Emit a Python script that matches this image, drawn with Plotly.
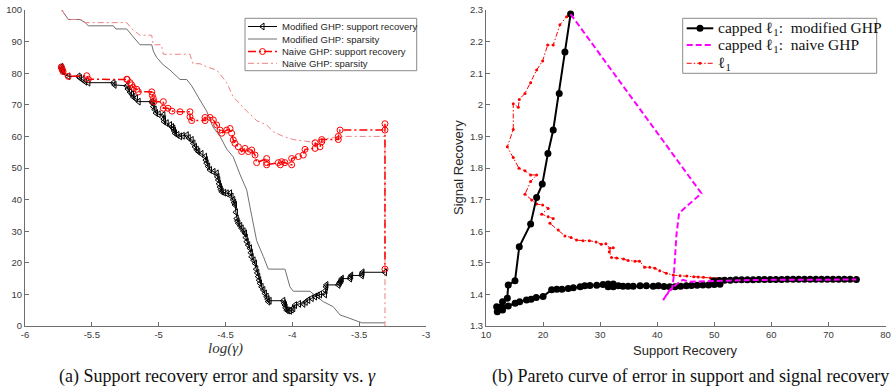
import plotly.graph_objects as go

W, H = 892, 390

# ---------------- Left panel data: (a) support recovery error / sparsity vs log(gamma)
mod_sr_x = [-5.728, -5.725, -5.720, -5.715, -5.676, -5.600, -5.589, -5.570, -5.550, -5.526, -5.339, -5.330, -5.239,
            -5.230, -5.214, -5.200, -5.190, -5.170, -5.150, -5.052, -5.045, -5.040, -5.030, -5.020, -5.000, -4.965, -4.962, -4.960,
            -4.940, -4.915, -4.900, -4.891, -4.885, -4.878, -4.860, -4.840, -4.820, -4.790, -4.775, -4.753, -4.740, -4.728, -4.715,
            -4.704, -4.680, -4.653, -4.647, -4.641, -4.630, -4.616, -4.590, -4.566, -4.560, -4.554, -4.548, -4.541, -4.535, -4.528,
            -4.510, -4.491, -4.466, -4.455, -4.442, -4.435, -4.429, -4.422, -4.416, -4.410, -4.404, -4.390, -4.379, -4.365, -4.354,
            -4.348, -4.341, -4.330, -4.317, -4.310, -4.304, -4.290, -4.279, -4.270, -4.262, -4.255, -4.248, -4.242, -4.230, -4.217,
            -4.205, -4.192, -4.185, -4.180, -4.170, -4.068, -4.062, -4.055, -4.050, -4.042, -4.030, -4.018, -4.005, -3.993, -3.980,
            -3.950, -3.918, -3.900, -3.881, -3.855, -3.830, -3.810, -3.793, -3.756, -3.752, -3.748, -3.745, -3.656, -3.650, -3.643,
            -3.635, -3.630, -3.569, -3.565, -3.560, -3.481, -3.478, -3.475, -3.307]
mod_sr_y = [82, 81.5, 81, 80.5, 79, 79, 78.5, 78, 77.3, 77, 77, 76.3, 76,
            75, 74, 73.3, 72.5, 72, 71, 71, 70.5, 69.4, 68.5, 67.4, 67, 66.8, 65.5, 64.7,
            64.2, 63.6, 63, 62.5, 61.8, 61, 60.5, 60, 60.2, 60.4, 59.5, 58.9, 57.8, 56.7, 55.8,
            55.2, 54.5, 53.6, 52.5, 51.5, 50.5, 49.4, 48.8, 48.3, 47.2, 46.2, 45, 44, 43.2, 42.5,
            42.2, 42, 42, 41, 39.9, 39, 38.3, 36, 34, 33.2, 32.5, 31.7, 30.9, 30, 29.3,
            28, 26.7, 25.6, 24.6, 23.2, 21.9, 20.8, 19.8, 18, 16.8, 15.6, 14.5, 13.5, 12.4, 11.4,
            10.3, 9.3, 8.5, 7.7, 8, 8, 7.2, 6.6, 5.8, 5, 4.9, 4.8, 5.2, 5.6, 6.6,
            7, 7, 7.6, 8.2, 8.8, 9.3, 9.7, 10, 10, 11.2, 12.4, 13, 13, 13.5, 14,
            14.5, 15, 15, 15.5, 16, 16, 16.5, 17, 17]

mod_sp_x = [-5.725, -5.676, -5.589, -5.550, -5.526, -5.339, -5.320, -5.239, -5.200, -5.170, -5.140, -5.052, -5.040,
            -5.015, -4.965, -4.915, -4.840, -4.790, -4.753, -4.691, -4.641, -4.594, -4.541, -4.491, -4.442, -4.392,
            -4.341, -4.317, -4.267, -4.217, -4.180, -4.055, -4.018, -3.993, -3.868, -3.818, -3.768, -3.694, -3.643,
            -3.569, -3.481, -3.307]
mod_sp_y = [100, 97, 97, 96, 95, 95, 94, 94, 92, 90.5, 89, 89, 87,
            85, 82.6, 81, 78, 78, 76, 71.5, 68, 63, 60, 56, 53.5, 48,
            43, 37.7, 27, 22, 18, 18, 12.4, 11, 11, 9.3, 7.7, 6.1, 3.5,
            2.4, 1, 1]

naive_sr_x = [-5.728, -5.725, -5.720, -5.715, -5.676, -5.538, -5.526, -5.239, -5.235, -5.214, -5.202, -5.190, -5.164, -5.152, -5.052,
              -5.048, -5.040, -5.035, -4.965, -4.965, -4.930, -4.900, -4.840, -4.766, -4.766, -4.753, -4.653, -4.653, -4.616, -4.591,
              -4.566, -4.541, -4.528, -4.491, -4.466, -4.454, -4.442, -4.429, -4.404, -4.379, -4.354, -4.329, -4.304, -4.279, -4.267,
              -4.192, -4.192, -4.192, -4.105, -4.090, -4.080, -4.055, -4.005, -4.005, -3.955, -3.918, -3.905, -3.830, -3.830, -3.793,
              -3.780, -3.780, -3.656, -3.656, -3.643, -3.307, -3.307, -3.307]
naive_sr_y = [82, 81.5, 81, 80.5, 79, 79.2, 78.1, 78.1, 78, 77, 76.3, 75.5, 74.9, 74.1, 74.1,
              73, 72, 71, 71, 68.9, 68.9, 68, 67.8, 67.8, 66.2, 65, 65, 66, 66, 65.2,
              63.6, 62, 61, 62, 62.5, 61, 58.9, 57.8, 56.7, 55.2, 56.2, 55.2, 55.7, 54.1, 51.7,
              53, 51.7, 51, 51.7, 51, 52, 51.7, 51, 53, 53.6, 54.1, 55.9, 56.2, 58, 56.7,
              58.3, 59, 59, 60, 62, 62, 64, 18]

naive_sp_x = [-5.725, -5.676, -5.580, -5.550, -5.239, -5.200, -5.140, -5.052, -5.040, -4.980,
              -4.965, -4.766, -4.743, -4.691, -4.641, -4.566, -4.491, -4.442, -4.341, -4.267,
              -4.192, -4.142, -4.068, -3.993, -3.868, -3.793, -3.694, -3.643, -3.307, -3.307]
naive_sp_y = [100, 97, 97, 96, 96, 94, 92, 92, 89, 89,
              86, 86, 83, 83, 82, 81, 77, 72.5, 68, 65,
              63.6, 61.5, 60, 59, 58.3, 59, 59.6, 60, 60, 0]

left_xticks = [-6, -5.5, -5, -4.5, -4, -3.5, -3]
left_xticklabels = ["-6", "-5.5", "-5", "-4.5", "-4", "-3.5", "-3"]
left_yticks = [0, 10, 20, 30, 40, 50, 60, 70, 80, 90, 100]

# ---------------- Right panel data: (b) Pareto curve
cap_mod_x = [24.82, 23.83, 22.83, 21.78, 20.85, 19.86, 18.87, 17.82, 15.83, 15.08, 13.9, 13.73, 12.9, 12.75, 11.87, 11.98,
             12.9, 13.9, 15.1, 15.9, 17.1, 17.9, 18.8, 20.0, 21.5, 22.4, 23.3, 24.4, 25.3, 26.5, 27.3, 28.2, 29.4, 30.5,
             31.4, 31.4, 32.3, 32.3, 33.2, 34.0, 34.9, 35.8, 37.0, 38.1, 39.3, 40.2, 41.2, 42.2, 43.1, 44.1, 45.1, 46.0,
             47.0, 48.0, 49.0, 50.0, 51.0, 50.5, 49.9, 50.9, 51.8, 52.8, 53.8, 54.8, 55.8, 56.8, 57.8, 58.8, 59.8, 60.8,
             61.8, 62.8, 63.8, 64.8, 65.8, 66.8, 67.8, 68.8, 69.8, 70.8, 71.8, 72.8, 73.8, 74.9]
cap_mod_y = [2.287, 2.167, 2.036, 1.920, 1.846, 1.749, 1.707, 1.623, 1.551, 1.443, 1.430, 1.388, 1.377, 1.361, 1.361, 1.345,
             1.351, 1.363, 1.372, 1.377, 1.382, 1.385, 1.390, 1.393, 1.415, 1.416, 1.416, 1.419, 1.421, 1.424, 1.427, 1.428, 1.429, 1.431,
             1.433, 1.424, 1.424, 1.433, 1.427, 1.426, 1.426, 1.426, 1.427, 1.427, 1.426, 1.427, 1.425, 1.424, 1.424, 1.426, 1.427, 1.428,
             1.429, 1.430, 1.430, 1.431, 1.432, 1.437, 1.443, 1.444, 1.445, 1.445, 1.446, 1.446, 1.446, 1.446, 1.447, 1.447, 1.447, 1.447,
             1.447, 1.448, 1.448, 1.448, 1.448, 1.448, 1.448, 1.448, 1.448, 1.448, 1.448, 1.448, 1.448, 1.447]

cap_naive_x = [24.82, 47.74, 43.83, 43.37, 42.9, 42.6, 41.6, 41.03, 42.2, 43.95, 44.5, 45.7, 47.0, 49.8, 55.0, 60.0, 65.0, 70.0, 74.9]
cap_naive_y = [2.287, 1.720, 1.657, 1.588, 1.456, 1.418, 1.398, 1.382, 1.414, 1.440, 1.446, 1.440, 1.441, 1.443, 1.445, 1.446, 1.447, 1.447, 1.447]

l1_x = [24.6, 24.12, 22.95, 21.78, 20.8, 19.92, 18.87, 17.82, 16.83, 15.83, 15.66, 14.78, 14.78, 13.73, 14.78, 15.78, 16.83,
        17.82, 18.87, 17.82, 16.83, 18.0, 18.87, 19.92, 20.9, 19.75, 20.9, 21.78, 21.2, 22.66, 23.83, 24.9, 25.87, 27.0,
        28.1, 29.3, 30.2, 31.0, 31.7, 32.3, 31.6, 32.0, 32.9, 34.1, 34.9, 36.1, 36.9, 37.8, 38.7, 39.6, 40.45, 41.6, 42.8,
        44.0, 45.2, 46.4, 47.2, 48.1, 49.3, 50.4, 51.4, 52.4, 53.4, 54.4, 55.4, 56.4, 57.4, 58.4, 59.4, 60.4, 61.4, 62.4,
        63.4, 64.4, 65.4, 66.4, 67.4, 68.4, 69.4, 70.4, 71.4, 72.4, 73.4, 74.4, 75.0]
l1_y = [2.282, 2.279, 2.253, 2.189, 2.189, 2.139, 2.110, 2.070, 2.036, 2.017, 1.992, 2.003, 1.922, 1.867, 1.833, 1.799, 1.791,
        1.778, 1.778, 1.757, 1.717, 1.699, 1.686, 1.683, 1.672, 1.654, 1.646, 1.640, 1.625, 1.604, 1.585, 1.580, 1.572, 1.570,
        1.570, 1.566, 1.559, 1.560, 1.546, 1.548, 1.535, 1.517, 1.515, 1.512, 1.507, 1.505, 1.505, 1.486, 1.486, 1.483, 1.475, 1.467, 1.461,
        1.459, 1.458, 1.456, 1.455, 1.454, 1.452, 1.450, 1.449, 1.448, 1.448, 1.447, 1.447, 1.447, 1.446, 1.446, 1.446, 1.446, 1.446, 1.446,
        1.446, 1.446, 1.446, 1.446, 1.446, 1.446, 1.446, 1.446, 1.446, 1.446, 1.446, 1.446, 1.446]

right_xticks = [10, 20, 30, 40, 50, 60, 70, 80]
right_yticks = [1.3, 1.4, 1.5, 1.6, 1.7, 1.8, 1.9, 2.0, 2.1, 2.2, 2.3]
right_yticklabels = ["1.3", "1.4", "1.5", "1.6", "1.7", "1.8", "1.9", "2", "2.1", "2.2", "2.3"]

left_legend_labels = ["Modified GHP: support recovery", "Modified GHP: sparsity",
                      "Naive GHP: support recovery", "Naive GHP: sparsity"]
right_legend_labels = ["capped ℓ<sub>1</sub>:  modified GHP", "capped ℓ<sub>1</sub>:  naive GHP", "ℓ<sub>1</sub>"]

# ---------------- styles
BLACK = "#000000"
GRAY = "#707070"
RED = "#ff0000"
PINK = "#f08080"
MAGENTA = "#ff00ff"
AXIS = "#6e6e6e"
SANS = "Liberation Sans, Arial, Helvetica, sans-serif"
SERIF = "Liberation Serif, Times New Roman, serif"

style = {
    "mod_sr": dict(mode="lines+markers", line=dict(color=BLACK, width=1),
                   marker=dict(symbol="triangle-left-open", size=6, color=BLACK, line=dict(width=1, color=BLACK))),
    "mod_sp": dict(mode="lines", line=dict(color=GRAY, width=1)),
    "naive_sr": dict(mode="lines+markers", line=dict(color=RED, width=1.5, dash="8px,3px,2px,3px"),
                     marker=dict(symbol="circle-open", size=6, color=RED, line=dict(width=1, color=RED))),
    "naive_sp": dict(mode="lines", line=dict(color=PINK, width=1, dash="6px,3px,2px,3px")),
    "cap_mod": dict(mode="lines+markers", line=dict(color=BLACK, width=2),
                    marker=dict(symbol="circle", size=7, color=BLACK)),
    "cap_naive": dict(mode="lines", line=dict(color=MAGENTA, width=2, dash="6px,3px")),
    "l1": dict(mode="lines+markers", line=dict(color=RED, width=1, dash="5px,2px,1.5px,2px"),
               marker=dict(symbol="circle", size=3, color=RED)),
}

fig = go.Figure()

# left panel traces
fig.add_trace(go.Scatter(x=mod_sp_x, y=mod_sp_y, xaxis="x", yaxis="y", showlegend=False, **style["mod_sp"]))
fig.add_trace(go.Scatter(x=naive_sp_x, y=naive_sp_y, xaxis="x", yaxis="y", showlegend=False, **style["naive_sp"]))
fig.add_trace(go.Scatter(x=mod_sr_x, y=mod_sr_y, xaxis="x", yaxis="y", showlegend=False, **style["mod_sr"]))
fig.add_trace(go.Scatter(x=naive_sr_x, y=naive_sr_y, xaxis="x", yaxis="y", showlegend=False, **style["naive_sr"]))

# right panel traces
fig.add_trace(go.Scatter(x=l1_x, y=l1_y, xaxis="x2", yaxis="y2", showlegend=False, **style["l1"]))
fig.add_trace(go.Scatter(x=cap_mod_x, y=cap_mod_y, xaxis="x2", yaxis="y2", showlegend=False, **style["cap_mod"]))
fig.add_trace(go.Scatter(x=cap_naive_x, y=cap_naive_y, xaxis="x2", yaxis="y2", showlegend=False, **style["cap_naive"]))

# ---------------- legends (drawn on a hidden pixel-space overlay axis)
shapes = []
annotations = []

def legend_block(box, rows, line_x0, line_x1, text_x, keys, labels, font):
    x0, y0, x1, y1 = box
    shapes.append(dict(type="rect", xref="x3", yref="y3", x0=x0, y0=y0, x1=x1, y1=y1,
                       line=dict(color="#8a8a8a", width=1), fillcolor="white", layer="below"))
    for ry, key, lab in zip(rows, keys, labels):
        st = dict(style[key])
        fig.add_trace(go.Scatter(x=[line_x0, line_x1], y=[ry, ry], xaxis="x3", yaxis="y3",
                                 mode="lines", line=st["line"], showlegend=False, hoverinfo="skip"))
        if "marker" in st:
            fig.add_trace(go.Scatter(x=[(line_x0 + line_x1) / 2], y=[ry], xaxis="x3", yaxis="y3",
                                     mode="markers", marker=st["marker"], showlegend=False, hoverinfo="skip"))
        annotations.append(dict(xref="x3", yref="y3", x=text_x, y=ry, text=lab, showarrow=False,
                                xanchor="left", yanchor="middle", font=font))

legend_block((245, 18.3, 416.7, 70.7), [26.5, 39.0, 51.5, 63.3], 248, 277, 279.5,
             ["mod_sr", "mod_sp", "naive_sr", "naive_sp"], left_legend_labels,
             dict(family=SANS, size=9.5, color="#262626"))
legend_block((682.7, 18.3, 876.7, 73.3), [28.3, 45.0, 63.3], 686.7, 713.3, 716.2,
             ["cap_mod", "cap_naive", "l1"], right_legend_labels,
             dict(family=SERIF, size=15.5, color="#111111"))

# ---------------- texts
def ann(x, y, text, font, **kw):
    d = dict(xref="x3", yref="y3", x=x, y=y, text=text, showarrow=False,
             xanchor="center", yanchor="middle", font=font)
    d.update(kw)
    annotations.append(d)

ann(225, 348, "<i>log(γ)</i>", dict(family=SERIF, size=15, color="#333333"))
ann(685, 350, "Support Recovery", dict(family=SANS, size=13, color="#262626"))
ann(458, 168, "Signal Recovery", dict(family=SANS, size=13, color="#262626"), textangle=-90)
ann(217.5, 376, "(a) Support recovery error and sparsity vs. <i>γ</i>", dict(family=SERIF, size=18, color="#111111"))
ann(690, 376, "(b) Pareto curve of error in support and signal recovery", dict(family=SERIF, size=18, color="#111111"))

# ---------------- axes
L_X0, L_X1 = 25, 426
R_X0, R_X1 = 486, 885.5
P_TOP, P_BOT = 10, 326
ydom = [1 - P_BOT / H, 1 - P_TOP / H]

axis_common = dict(showline=True, linecolor=AXIS, linewidth=1, ticks="inside", ticklen=4, tickcolor=AXIS,
                   showgrid=False, zeroline=False, mirror=False, automargin=False,
                   tickfont=dict(family=SANS, size=9.5, color="#3a3a3a"))

fig.update_layout(
    width=W, height=H,
    margin=dict(l=0, r=0, t=0, b=0, pad=0),
    paper_bgcolor="white", plot_bgcolor="rgba(0,0,0,0)",
    showlegend=False,
    xaxis=dict(domain=[L_X0 / W, L_X1 / W], range=[-6, -3], tickvals=left_xticks, ticktext=left_xticklabels,
               anchor="y", **axis_common),
    yaxis=dict(domain=ydom, range=[0, 100], tickvals=left_yticks, anchor="x", **axis_common),
    xaxis2=dict(domain=[R_X0 / W, R_X1 / W], range=[10, 80], tickvals=right_xticks, anchor="y2", **axis_common),
    yaxis2=dict(domain=ydom, range=[1.3, 2.3], tickvals=right_yticks, ticktext=right_yticklabels,
                anchor="x2", **axis_common),
    xaxis3=dict(domain=[0, 1], range=[0, W], visible=False, anchor="y3", fixedrange=True),
    yaxis3=dict(domain=[0, 1], range=[H, 0], visible=False, anchor="x3", fixedrange=True),
    shapes=shapes,
    annotations=annotations,
)

fig.write_html("out.html", config={"displayModeBar": False},
               post_script="document.body.style.margin='0';document.body.style.overflow='hidden';")
